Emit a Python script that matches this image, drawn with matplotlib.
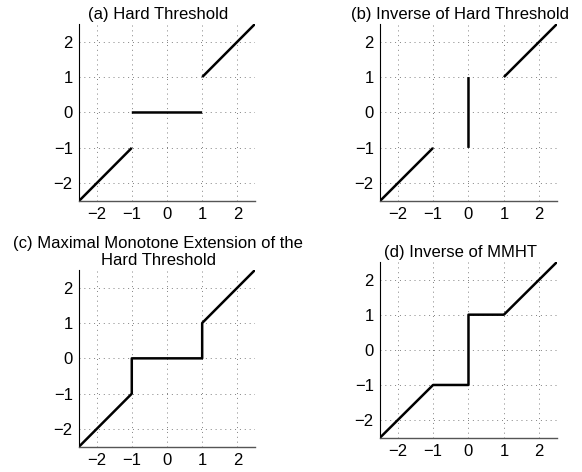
import matplotlib
matplotlib.use('Agg')
import matplotlib.pyplot as plt
import numpy as np

plt.rcParams['font.family'] = ['Liberation Sans', 'DejaVu Sans']

# piecewise curves, nan breaks the line
x_a = [-2.5, -1, np.nan, -1, 1, np.nan, 1, 2.5]
y_a = [-2.5, -1, np.nan, 0, 0, np.nan, 1, 2.5]

x_b = [-2.5, -1, np.nan, 0, 0, np.nan, 1, 2.5]
y_b = [-2.5, -1, np.nan, -1, 1, np.nan, 1, 2.5]

x_c = [-2.5, -1, -1, 1, 1, 2.5]
y_c = [-2.5, -1, 0, 0, 1, 2.5]

x_d = [-2.5, -1, 0, 0, 1, 2.5]
y_d = [-2.5, -1, -1, 1, 1, 2.5]

ticks = [-2, -1, 0, 1, 2]
tick_labels = ['\u22122', '\u22121', '0', '1', '2']

titles = ['(a) Hard Threshold',
          '(b) Inverse of Hard Threshold',
          '(c) Maximal Monotone Extension of the\nHard Threshold',
          '(d) Inverse of MMHT']

fig = plt.figure(figsize=(5.82, 4.72), dpi=100)

positions = [
    [0.1357, 0.5742, 0.3024, 0.375],
    [0.6529, 0.5742, 0.3041, 0.375],
    [0.1357, 0.0536, 0.3024, 0.3744],
    [0.6529, 0.0727, 0.3041, 0.3723],
]
title_x = [0.45, 0.45, 0.45, 0.455]
data = [(x_a, y_a), (x_b, y_b), (x_c, y_c), (x_d, y_d)]

for pos, (xs, ys), title, tx in zip(positions, data, titles, title_x):
    ax = fig.add_axes(pos)
    ax.plot(xs, ys, color='black', linewidth=1.8, solid_capstyle='butt')
    ax.set_xlim(-2.5, 2.5)
    ax.set_ylim(-2.5, 2.5)
    ax.set_xticks(ticks)
    ax.set_yticks(ticks)
    ax.set_xticklabels(tick_labels)
    ax.set_yticklabels(tick_labels)
    ax.tick_params(direction='in', length=0, labelsize=12, pad=4.5)
    ax.grid(True, linestyle=(0, (1, 4)), color='#808080', linewidth=0.7)
    for s in ['top', 'right']:
        ax.spines[s].set_visible(False)
    ax.spines['left'].set_linewidth(0.8)
    ax.spines['left'].set_color('black')
    ax.spines['bottom'].set_linewidth(1.0)
    ax.spines['bottom'].set_color('#555555')
    ax.set_title(title, fontsize=12, pad=3.5, linespacing=1.15, x=tx)

fig.savefig('out.png', dpi=100)
